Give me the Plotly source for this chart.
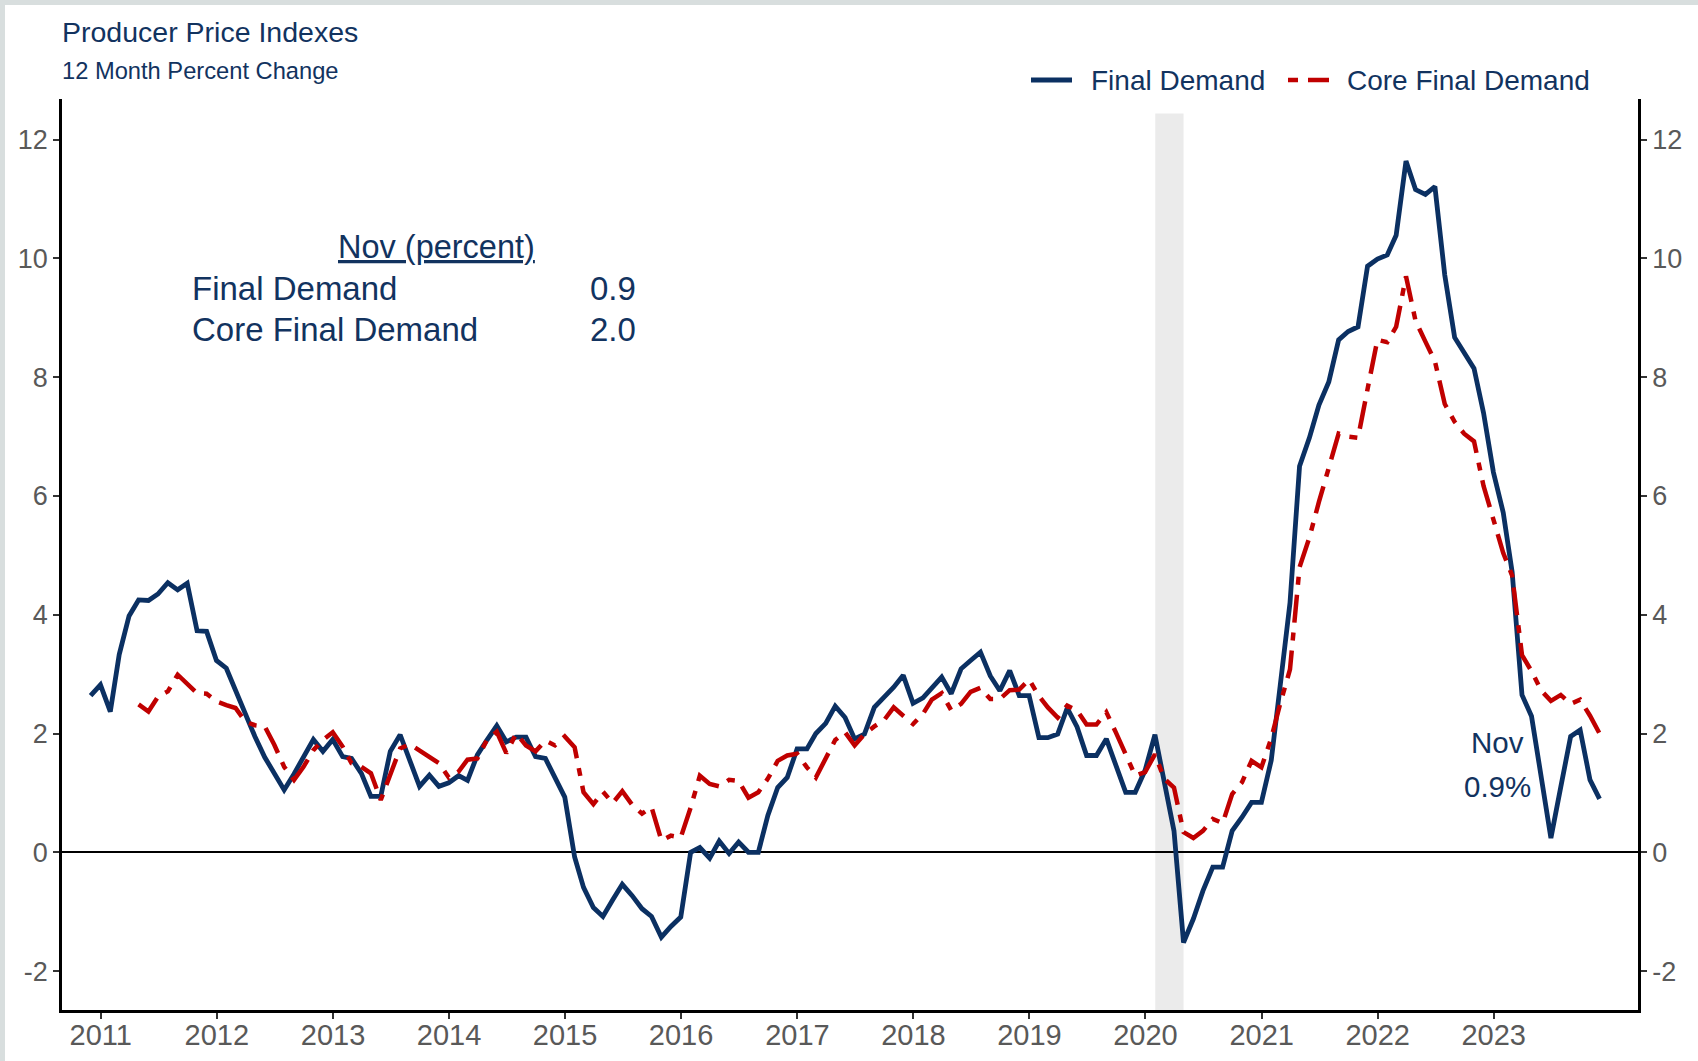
import pandas as pd
import plotly.graph_objects as go

# ---- data: 12-month percent change, monthly ----
final_demand = [
    2.64, 2.82,                                                              # 2010 Nov-Dec
    2.37, 3.33, 3.98, 4.25, 4.24, 4.35, 4.54, 4.42, 4.53, 3.73, 3.72, 3.23,  # 2011
    3.10, 2.73, 2.30, 1.95, 1.60, 1.32, 1.05, 1.32, 1.61, 1.90, 1.70, 1.90,  # 2012
    1.61, 1.58, 1.33, 0.94, 0.94, 1.70, 1.98, 1.56, 1.11, 1.30, 1.11, 1.17,  # 2013
    1.29, 1.21, 1.64, 1.89, 2.13, 1.86, 1.94, 1.94, 1.61, 1.58, 1.25, 0.93,  # 2014
    -0.08, -0.59, -0.93, -1.08, -0.80, -0.54, -0.73, -0.95, -1.08, -1.43, -1.25, -1.09,  # 2015
    0.00, 0.08, -0.10, 0.19, -0.02, 0.17, 0.00, 0.00, 0.62, 1.09, 1.26, 1.74,  # 2016
    1.74, 2.00, 2.17, 2.46, 2.27, 1.91, 1.99, 2.44, 2.61, 2.78, 2.98, 2.51,  # 2017
    2.60, 2.78, 2.95, 2.67, 3.09, 3.23, 3.37, 2.97, 2.72, 3.06, 2.64, 2.64,  # 2018
    1.93, 1.93, 1.99, 2.43, 2.11, 1.63, 1.63, 1.91, 1.49, 1.01, 1.01, 1.38,  # 2019
    1.98, 1.21, 0.36, -1.52, -1.12, -0.65, -0.25, -0.25, 0.36, 0.59, 0.84, 0.84,  # 2020
    1.55, 2.80, 4.20, 6.50, 6.98, 7.53, 7.92, 8.63, 8.77, 8.85, 9.87, 9.99,  # 2021
    10.06, 10.39, 11.64, 11.16, 11.08, 11.21, 9.72, 8.67, 8.43, 8.15, 7.40, 6.40,  # 2022
    5.72, 4.72, 2.65, 2.29, 1.25, 0.24, 1.10, 1.95, 2.06, 1.22, 0.90,        # 2023 Jan-Nov
]
final_months = pd.period_range("2010-11", "2023-11", freq="M")

core_final_demand = [
    2.49, 2.37, 2.62, 2.71, 2.99, 2.84, 2.68, 2.67, 2.54,                    # 2011 Apr-Dec
    2.48, 2.43, 2.20, 2.14, 2.12, 1.81, 1.44, 1.22, 1.44, 1.72, 1.89, 2.02,  # 2012
    1.78, 1.50, 1.44, 1.33, 0.88, 1.33, 1.75, 1.82, 1.72, 1.61, 1.50, 1.26,  # 2013
    1.36, 1.56, 1.58, 1.89, 2.03, 1.67, 2.00, 1.80, 1.70, 1.88, 1.80, 1.95,  # 2014
    1.77, 1.01, 0.81, 1.02, 0.83, 1.03, 0.80, 0.65, 0.76, 0.20, 0.28, 0.25,  # 2015
    0.75, 1.29, 1.15, 1.11, 1.22, 1.20, 0.92, 1.01, 1.24, 1.54, 1.63, 1.66,  # 2016
    1.43, 1.26, 1.60, 1.89, 2.02, 1.80, 1.99, 2.12, 2.22, 2.44, 2.30, 2.16,  # 2017
    2.33, 2.57, 2.68, 2.39, 2.50, 2.70, 2.77, 2.58, 2.58, 2.73, 2.74, 2.91,  # 2018
    2.63, 2.44, 2.27, 2.47, 2.39, 2.15, 2.15, 2.36, 2.02, 1.66, 1.29, 1.35,  # 2019
    1.65, 1.24, 1.09, 0.34, 0.24, 0.36, 0.56, 0.49, 0.98, 1.18, 1.54, 1.43,  # 2020
    1.92, 2.50, 3.08, 4.80, 5.30, 5.90, 6.50, 7.05, 7.00, 6.98, 7.80, 8.63,  # 2021
    8.59, 8.85, 9.70, 8.95, 8.60, 8.27, 7.55, 7.25, 7.05, 6.92, 6.17, 5.60,  # 2022
    5.04, 4.66, 3.32, 3.05, 2.72, 2.55, 2.65, 2.50, 2.57, 2.30, 2.00,        # 2023 Jan-Nov
]
core_months = pd.period_range("2011-04", "2023-11", freq="M")

year_ticks = list(range(2011, 2024))
y_ticks = [-2, 0, 2, 4, 6, 8, 10, 12]
recession = ("2020-02-01", "2020-04-30")

# ---- styling ----
NAVY = "#0b3062"
RED = "#c00000"
TEXT = "#12335f"
GREY_TXT = "#595959"
FONT = "Liberation Sans, Arial, sans-serif"
NARROW = "Liberation Sans Narrow, Arial Narrow, Liberation Sans, sans-serif"
CORE_DASH = "28px,10px,8px,10px"

W, H = 1698, 1061
L, R, T, B = 62, 60, 99, 51
Y_RANGE = [-2.656, 12.686]
X_RANGE = ["2010-09-01", "2024-03-30"]


def px(x):
    return (x - L) / (W - L - R)


def py(y):
    return (H - B - y) / (H - T - B)


def month_end(periods):
    return periods.to_timestamp(how="end").normalize().strftime("%Y-%m-%d")


fd_x = month_end(final_months)
core_x = month_end(core_months)

fig = go.Figure()
fig.add_trace(go.Scatter(
    x=fd_x, y=final_demand, mode="lines", name="Final Demand",
    line=dict(color=NAVY, width=4.8), showlegend=False,
))
fig.add_trace(go.Scatter(
    x=core_x, y=core_final_demand, mode="lines", name="Core Final Demand",
    line=dict(color=RED, width=4.5, dash=CORE_DASH), showlegend=False,
))
# carries the right-hand value axis
fig.add_trace(go.Scatter(
    x=fd_x, y=final_demand, yaxis="y2", mode="lines",
    line=dict(color="rgba(0,0,0,0)", width=0), hoverinfo="skip", showlegend=False,
))

axis_common = dict(
    range=Y_RANGE, tickvals=y_ticks, ticktext=[str(v) for v in y_ticks],
    showline=True, linecolor="black", linewidth=2.5,
    ticks="outside", ticklen=6, tickwidth=1.5, tickcolor="#333333",
    tickfont=dict(family=FONT, size=27, color=GREY_TXT),
    showgrid=False, fixedrange=True, automargin=False,
)

fig.update_layout(
    width=W, height=H,
    margin=dict(l=L, r=R, t=T, b=B, pad=0, autoexpand=False),
    paper_bgcolor="white", plot_bgcolor="white",
    showlegend=False,
    xaxis=dict(
        type="date", range=X_RANGE,
        tickvals=[f"{y}-01-01" for y in year_ticks],
        ticktext=[str(y) for y in year_ticks],
        showline=True, linecolor="black", linewidth=2.5,
        ticks="outside", ticklen=6, tickwidth=1.5, tickcolor="#333333",
        tickfont=dict(family=NARROW, size=29, color=GREY_TXT),
        ticklabelstandoff=-9,
        showgrid=False, zeroline=False, automargin=False,
    ),
    yaxis=dict(**axis_common, zeroline=True, zerolinecolor="black", zerolinewidth=2),
    yaxis2=dict(**axis_common, overlaying="y", side="right", zeroline=False),
)

shapes = [
    # recession shading
    dict(type="rect", xref="x", yref="y", x0=recession[0], x1=recession[1],
         y0=Y_RANGE[0], y1=12.44, fillcolor="#ebebeb", line=dict(width=0), layer="below"),
    # frame strips along the top and left page edges
    dict(type="rect", xref="paper", yref="paper", x0=px(0), x1=px(5), y0=py(H), y1=py(0),
         fillcolor="#d8dede", line=dict(width=0), layer="below"),
    dict(type="rect", xref="paper", yref="paper", x0=px(0), x1=px(W), y0=py(5), y1=py(0),
         fillcolor="#d8dede", line=dict(width=0), layer="below"),
    # legend keys
    dict(type="line", xref="paper", yref="paper", x0=px(1031), x1=px(1072), y0=py(80), y1=py(80),
         line=dict(color=NAVY, width=4.8)),
    dict(type="line", xref="paper", yref="paper", x0=px(1329), x1=px(1288), y0=py(80), y1=py(80),
         line=dict(color=RED, width=4.5, dash="21px,10px,10px,10px")),
]

last_month = final_months[-1].strftime("%b")
fd_last = final_demand[-1]
core_last = core_final_demand[-1]


def note(text, x, y, size, xanchor="left", yanchor="middle", color=TEXT):
    return dict(text=text, x=px(x), y=py(y), xref="paper", yref="paper",
                xanchor=xanchor, yanchor=yanchor, showarrow=False,
                font=dict(family=FONT, size=size, color=color))


annotations = [
    note("Producer Price Indexes", 60, 32, 28.5),
    note("12 Month Percent Change", 60, 71, 23.7),
    note("Final Demand", 1089, 80, 28),
    note("Core Final Demand", 1345, 80, 28),
    note(f"<u>{last_month} (percent)</u>", 436, 247, 32.5, xanchor="center"),
    note("Final Demand", 190, 288, 33),
    note("Core Final Demand", 190, 329, 33),
    note(f"{fd_last:.1f}", 588, 288, 33),
    note(f"{core_last:.1f}", 588, 329, 33),
    note(last_month, 1497, 742, 29.5, xanchor="center"),
    note(f"{fd_last:.1f}%", 1497, 786, 29.5, xanchor="center"),
]

fig.update_layout(shapes=shapes, annotations=annotations)
fig.write_html("out.html")
